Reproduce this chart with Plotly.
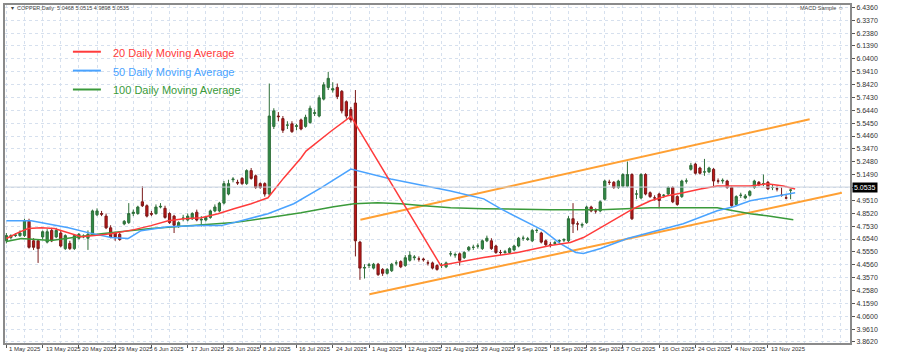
import plotly.graph_objects as go

# ---------------- data ----------------
opens = [4.64,4.665,4.68,4.68,4.68,4.79,4.64,4.64,4.67,4.63,4.72,4.67,4.70,4.58,4.62,4.58,4.66,4.67,4.66,4.69,
         4.84,4.85,4.83,4.74,4.70,4.69,4.77,4.78,4.85,4.85,4.94,4.91,4.85,4.85,4.90,4.89,4.85,4.83,4.75,4.81,
         4.80,4.81,4.86,4.80,4.80,4.82,4.87,4.87,4.93,5.00,5.11,5.09,5.12,5.08,5.18,5.14,5.08,5.08,5.00,
         5.52,5.60,5.58,5.53,5.54,5.52,5.57,5.52,5.55,5.62,5.60,5.73,5.82,5.80,5.82,5.79,5.71,5.65,
         5.70,
         4.63,4.43,4.45,4.43,4.46,4.42,4.39,4.41,4.47,4.48,4.45,4.49,4.51,4.50,4.50,4.47,4.47,4.45,4.45,4.44,
         4.54,4.53,4.54,4.51,4.57,4.59,4.60,4.58,4.64,4.64,4.60,4.55,4.55,4.55,4.57,4.60,4.66,4.65,4.64,4.72,
         4.70,4.64,4.61,4.62,4.64,4.645,4.64,4.81,4.77,4.76,4.78,4.90,4.87,4.87,4.96,5.09,5.09,5.05,5.06,5.06,
         5.15,5.00,4.97,5.15,5.01,4.97,5.00,4.99,5.00,5.05,4.98,4.98,5.10,5.19,5.23,5.20,5.17,5.17,5.19,5.10,
         5.10,5.10,5.05,4.92,4.99,4.97,4.99,5.05,5.09,5.08,5.09,5.05,5.04,4.99,4.97,5.03]
highs = [4.70,4.69,4.70,4.72,4.81,4.81,4.66,4.65,4.72,4.73,4.74,4.74,4.72,4.69,4.64,4.69,4.70,4.69,4.72,4.88,
         4.89,4.87,4.85,4.76,4.71,4.70,4.80,4.93,4.88,4.91,5.06,4.92,4.87,4.92,4.93,4.91,4.86,4.84,4.79,4.84,
         4.85,4.86,4.88,4.83,4.83,4.88,4.92,4.94,5.10,5.11,5.13,5.11,5.13,5.19,5.20,5.15,5.09,5.09,5.85,
         5.66,5.63,5.60,5.56,5.56,5.54,5.58,5.61,5.68,5.65,5.76,5.86,5.94,5.86,5.85,5.80,5.72,5.67,
         5.80,
         4.64,4.46,4.47,4.47,4.47,4.43,4.43,4.47,4.49,4.49,4.53,4.56,4.53,4.52,4.51,4.49,4.48,4.46,4.47,4.48,
         4.56,4.55,4.55,4.56,4.60,4.61,4.62,4.65,4.68,4.66,4.61,4.57,4.57,4.59,4.61,4.67,4.68,4.67,4.73,4.735,
         4.71,4.65,4.63,4.64,4.65,4.66,4.83,4.93,4.79,4.78,4.91,4.91,4.89,4.95,5.11,5.11,5.10,5.11,5.16,5.25,
         5.16,5.03,5.16,5.16,5.02,4.99,5.01,5.00,5.06,5.06,4.99,5.11,5.12,5.24,5.24,5.21,5.27,5.21,5.20,5.12,
         5.12,5.11,5.06,4.99,5.01,5.00,5.03,5.11,5.10,5.15,5.10,5.07,5.06,5.05,5.00,5.04,5.07]
lows = [4.62,4.65,4.67,4.67,4.67,4.58,4.57,4.47,4.65,4.62,4.63,4.66,4.59,4.57,4.57,4.57,4.65,4.66,4.57,4.68,
        4.83,4.83,4.73,4.66,4.64,4.64,4.76,4.77,4.83,4.84,4.90,4.82,4.83,4.84,4.89,4.81,4.77,4.70,4.74,4.79,
        4.79,4.80,4.79,4.75,4.79,4.81,4.86,4.86,4.92,4.99,5.09,5.07,5.07,5.07,5.11,5.04,5.04,4.98,4.98,
        5.50,5.56,5.47,5.50,5.47,5.49,5.49,5.51,5.54,5.60,5.59,5.72,5.80,5.78,5.73,5.62,5.58,5.55,
        4.52,
        4.34,4.35,4.43,4.42,4.37,4.37,4.38,4.40,4.45,4.43,4.44,4.48,4.49,4.48,4.48,4.45,4.42,4.41,4.43,4.43,
        4.52,4.51,4.45,4.50,4.56,4.57,4.58,4.57,4.63,4.57,4.54,4.53,4.54,4.54,4.56,4.59,4.64,4.64,4.63,4.70,
        4.62,4.60,4.59,4.61,4.62,4.63,4.63,4.70,4.72,4.74,4.77,4.86,4.85,4.86,4.95,5.07,5.04,5.04,5.05,5.05,
        4.80,4.96,4.96,4.99,4.97,4.95,4.89,4.97,4.99,4.93,4.91,4.97,5.08,5.18,5.15,5.15,5.14,5.16,5.05,5.08,
        5.08,5.04,4.90,4.91,4.97,4.96,4.98,5.04,5.06,5.06,5.03,5.03,5.02,4.98,4.96,4.96,5.01]
closes = [4.68,4.68,4.685,4.70,4.795,4.59,4.59,4.58,4.71,4.71,4.64,4.72,4.60,4.68,4.58,4.68,4.69,4.675,4.69,4.87,
          4.87,4.845,4.74,4.67,4.67,4.65,4.79,4.85,4.86,4.90,4.91,4.83,4.845,4.90,4.905,4.82,4.78,4.76,4.78,4.815,
          4.83,4.85,4.80,4.805,4.82,4.87,4.90,4.93,5.08,5.08,5.115,5.085,5.08,5.18,5.12,5.05,5.05,5.00,5.60,
          5.64,5.595,5.49,5.53,5.48,5.525,5.50,5.59,5.66,5.625,5.74,5.84,5.89,5.81,5.75,5.64,5.60,5.57,
          4.64,
          4.43,4.435,4.455,4.46,4.38,4.39,4.42,4.46,4.47,4.44,4.51,4.53,4.515,4.50,4.495,4.47,4.43,4.42,4.45,4.47,
          4.54,4.535,4.49,4.55,4.59,4.59,4.60,4.64,4.66,4.58,4.55,4.55,4.555,4.58,4.60,4.66,4.66,4.655,4.72,4.72,
          4.63,4.61,4.605,4.625,4.64,4.65,4.81,4.77,4.77,4.765,4.90,4.87,4.87,4.94,5.10,5.09,5.05,5.10,5.15,5.15,
          4.81,5.00,5.15,5.00,4.98,4.97,4.95,4.99,5.05,4.94,4.92,5.10,5.10,5.22,5.16,5.16,5.17,5.20,5.10,5.10,
          5.105,5.05,4.91,4.98,4.99,4.985,5.02,5.10,5.07,5.08,5.04,5.05,5.04,4.99,4.97,5.03,5.0535]

# moving averages read at sampled bars (bar index, price)
ma20_idx = [0,2.6,4.8,7.7,10.6,13.7,16.5,19.4,23.1,28.2,31.9,35.7,39.2,43,46.7,50.2,54,57.7,61.2,65,66.1,71.6,76,
            95.8,98,105.3,112.8,120,124.4,127.3,131.1,134.8,138.3,142.1,145.8,149.3,153.1,156.8,164.1,167.8,171.4,174]
ma20_val = [4.658,4.703,4.734,4.741,4.734,4.703,4.672,4.680,4.695,4.726,4.757,4.795,4.810,4.818,4.848,4.887,4.925,
            4.971,5.124,5.277,5.330,5.483,5.597,
            4.451,4.466,4.512,4.550,4.604,4.627,4.665,4.741,4.818,4.887,4.948,4.986,5.009,5.039,5.062,5.062,5.078,5.062,5.039]
ma50_idx = [0,5.5,13.7,18,23.1,26.9,29.7,35.7,43,47.4,51.8,57.7,63.4,69.4,76,84.8,98,105.3,109,112.8,118.5,122.2,
            125.6,127.3,131.1,137,142.1,149.3,156.8,160.4,164.1,167.8,171.4,174]
ma50_val = [4.795,4.795,4.741,4.703,4.665,4.658,4.718,4.749,4.757,4.757,4.795,4.848,4.925,5.047,5.192,5.116,5.024,
            4.963,4.887,4.818,4.718,4.619,4.550,4.542,4.581,4.658,4.703,4.772,4.871,4.902,4.948,4.971,4.993,5.009]
ma100_idx = [0,3.3,9.9,20.9,31.9,43,50.2,57.7,65,72.2,76.7,81.9,87,92.1,98,105.3,120,131.1,142.1,153.1,156.8,
             160.4,164.1,167.8,173.6]
ma100_val = [4.635,4.658,4.642,4.695,4.734,4.765,4.780,4.818,4.856,4.902,4.925,4.933,4.925,4.909,4.894,4.887,4.879,
             4.879,4.894,4.894,4.894,4.871,4.848,4.833,4.802]

# trend channel (bar index, price) end points
upper_idx = [78.1, 177.2]
upper_val = [4.802, 5.575]
lower_idx = [80.1, 184.3]
lower_val = [4.229, 5.009]

date_labels = ["1 May 2025","13 May 2025","20 May 2025","29 May 2025","6 Jun 2025","17 Jun 2025","26 Jun 2025",
               "8 Jul 2025","16 Jul 2025","24 Jul 2025","1 Aug 2025","12 Aug 2025","21 Aug 2025","29 Aug 2025",
               "9 Sep 2025","18 Sep 2025","26 Sep 2025","7 Oct 2025","16 Oct 2025","24 Oct 2025","4 Nov 2025",
               "13 Nov 2025"]
label_step = 8
price_ticks = ["3.8620","3.9610","4.0600","4.1590","4.2580","4.3570","4.4560","4.5550","4.6540","4.7530",
               "4.8520","4.9510","5.0500","5.1490","5.2480","5.3470","5.4460","5.5450","5.6440","5.7430",
               "5.8420","5.9410","6.0400","6.1390","6.2380","6.3370","6.4360"]
legend_items = ["20 Daily Moving Average", "50 Daily Moving Average", "100 Daily Moving Average"]

# ---------------- styles ----------------
RED = "#ff3b3b"
BLUE = "#4aa3ff"
GREEN = "#3a9a3a"
ORANGE = "#ffa033"
GRID = "#d6e0ee"

bars = list(range(len(closes)))
fig = go.Figure()

fig.add_trace(go.Candlestick(
    x=bars, open=opens, high=highs, low=lows, close=closes,
    increasing=dict(line=dict(color="#2f6f3a", width=1), fillcolor="#2e8b46"),
    decreasing=dict(line=dict(color="#7a1a1a", width=1), fillcolor="#c01515"),
    whiskerwidth=0, showlegend=False, hoverinfo="skip"))

for xs, ys in ((upper_idx, upper_val), (lower_idx, lower_val)):
    fig.add_trace(go.Scatter(x=xs, y=ys, mode="lines", line=dict(color=ORANGE, width=2),
                             showlegend=False, hoverinfo="skip"))

fig.add_trace(go.Scatter(x=ma100_idx, y=ma100_val, mode="lines", line=dict(color=GREEN, width=1.5),
                         showlegend=False, hoverinfo="skip"))
fig.add_trace(go.Scatter(x=ma50_idx, y=ma50_val, mode="lines", line=dict(color=BLUE, width=1.5),
                         showlegend=False, hoverinfo="skip"))
fig.add_trace(go.Scatter(x=ma20_idx, y=ma20_val, mode="lines", line=dict(color=RED, width=1.5),
                         showlegend=False, hoverinfo="skip"))

W, H = 900, 353
ML, MR, MT, MB = 4, 50, 3, 10
pw, ph = W - ML - MR, H - MT - MB

def px_x(p):
    return (p - ML) / pw

def px_y(p):
    return (H - MB - p) / ph

tick_pos = [k * label_step for k in range(len(date_labels))]

# the current-price box covers the tick label nearest to the last close
cur_label = f"{closes[-1]:.4f}"
shown_ticks = [("" if abs(float(t) - closes[-1]) < 0.03 else t) for t in price_ticks]

fig.update_layout(
    width=W, height=H,
    margin=dict(l=ML, r=MR, t=MT, b=MB),
    paper_bgcolor="white", plot_bgcolor="white",
    xaxis=dict(range=[-0.3, 186.1], rangeslider=dict(visible=False),
               tickmode="array", tickvals=tick_pos, ticktext=[""] * len(tick_pos),
               ticks="outside", ticklen=3, tickcolor="#555",
               showgrid=True, gridcolor=GRID, griddash="dot", gridwidth=1,
               minor=dict(dtick=4, tick0=0, showgrid=True, gridcolor=GRID, griddash="dot", ticks=""),
               showline=True, linecolor="#8a8a8a", linewidth=2, mirror=True, zeroline=False,
               fixedrange=True),
    yaxis=dict(range=[3.854, 6.454], side="right",
               tickmode="array", tickvals=[float(t) for t in price_ticks], ticktext=shown_ticks,
               tickfont=dict(family="Liberation Sans, Arial", size=7, color="#333"),
               ticks="outside", ticklen=3, tickcolor="#555",
               showgrid=True, gridcolor=GRID, griddash="dot", gridwidth=1,
               showline=True, linecolor="#8a8a8a", linewidth=2, mirror=True, zeroline=False,
               fixedrange=True),
    font=dict(family="Liberation Sans, Arial, sans-serif"),
)

annotations = []
for pos, lab in zip(tick_pos, date_labels):
    annotations.append(dict(x=pos, y=0, xref="x", yref="paper", text=lab, showarrow=False,
                            xanchor="left", yanchor="top", yshift=-1, xshift=1,
                            font=dict(size=6, color="#333")))

# current price label
annotations.append(dict(x=1, y=closes[-1], xref="paper", yref="y", text=cur_label,
                        showarrow=False, xanchor="left", yanchor="middle", xshift=2,
                        bgcolor="black", font=dict(size=7, color="white"), borderpad=1))

# header texts
annotations.append(dict(x=px_x(8), y=px_y(6), xref="paper", yref="paper",
                        text="▾  COPPER,Daily  5.0468 5.0515 4.9898 5.0535", showarrow=False,
                        xanchor="left", yanchor="middle", font=dict(size=5.5, color="#444")))
annotations.append(dict(x=px_x(846), y=px_y(6), xref="paper", yref="paper", text="MACD Sample ☺",
                        showarrow=False, xanchor="right", yanchor="middle",
                        font=dict(size=5.5, color="#444")))

shapes = []
# bid line
shapes.append(dict(type="line", xref="paper", yref="y", x0=0, x1=1, y0=closes[-1], y1=closes[-1],
                   line=dict(color="#c9d2de", width=1)))

leg_colors = [RED, BLUE, GREEN]
leg_y = [50, 69, 88]
for txt, col, yy in zip(legend_items, leg_colors, leg_y):
    shapes.append(dict(type="line", xref="paper", yref="paper", x0=px_x(72), x1=px_x(100),
                       y0=px_y(yy), y1=px_y(yy), line=dict(color=col, width=2)))
    annotations.append(dict(x=px_x(110), y=px_y(yy + 1), xref="paper", yref="paper", text=txt,
                            showarrow=False, xanchor="left", yanchor="middle",
                            font=dict(size=11, color=col, family="Liberation Sans, Arial")))

fig.update_layout(annotations=annotations, shapes=shapes)
fig.write_html("out.html")
